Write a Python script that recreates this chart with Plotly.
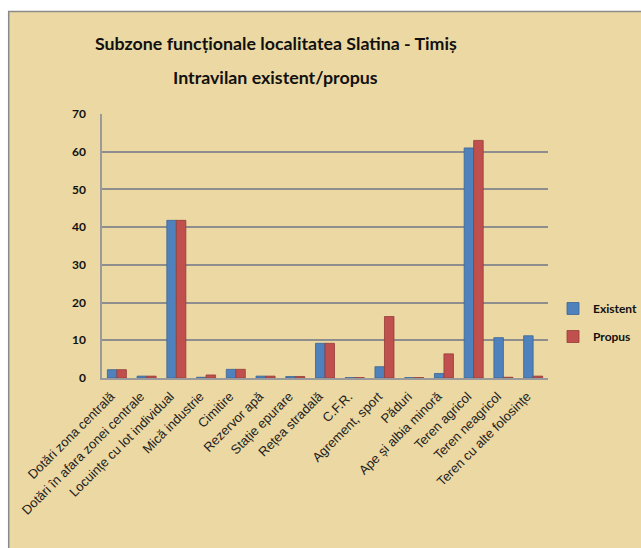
import plotly.graph_objects as go

categories = [
    "Dotări zona centrală", "Dotări în afara zonei centrale", "Locuințe cu lot individual",
    "Mică industrie", "Cimitire", "Rezervor apă", "Stație epurare", "Rețea stradală",
    "C.F.R.", "Agrement, sport", "Păduri", "Ape și albia minoră", "Teren agricol",
    "Teren neagricol", "Teren cu alte folosințe",
]
existent = [2.2, 0.5, 41.8, 0.2, 2.3, 0.5, 0.4, 9.2, 0.1, 3.0, 0.1, 1.2, 61.0, 10.7, 11.2]
propus = [2.2, 0.5, 41.8, 0.8, 2.3, 0.5, 0.4, 9.2, 0.1, 16.3, 0.1, 6.4, 63.0, 0.2, 0.5]
y_ticks = [0, 10, 20, 30, 40, 50, 60, 70]
title_lines = ["Subzone funcționale localitatea Slatina - Timiș", "Intravilan existent/propus"]

W, H = 641, 548
ML, MR, MT, MB = 102, 641 - 548, 114, 548 - 378
pw, ph = W - ML - MR, H - MT - MB

def px_x(p):
    return (p - ML) / pw

def px_y(p):
    return 1 - (p - MT) / ph

fig = go.Figure()
fig.add_trace(go.Bar(name="Existent", x=categories, y=existent, legendgroup="a",
                     marker=dict(color="#4F81BD", line=dict(color="#3A6697", width=0.8))))
fig.add_trace(go.Bar(name="Propus", x=categories, y=propus, legendgroup="b",
                     marker=dict(color="#C0504D", line=dict(color="#943B39", width=0.8))))

bg = "#ECD8A2"
shapes = [
    dict(type="rect", xref="paper", yref="paper", x0=px_x(0), x1=px_x(W), y0=px_y(11), y1=px_y(0),
         fillcolor="white", line=dict(width=0), layer="below"),
    dict(type="rect", xref="paper", yref="paper", x0=px_x(0), x1=px_x(8), y0=px_y(H), y1=px_y(0),
         fillcolor="white", line=dict(width=0), layer="below"),
    dict(type="line", xref="paper", yref="paper", x0=px_x(8), x1=px_x(W), y0=px_y(11.5), y1=px_y(11.5),
         line=dict(color="#8A8A8A", width=1.5), layer="below"),
    dict(type="line", xref="paper", yref="paper", x0=px_x(8.7), x1=px_x(8.7), y0=px_y(H), y1=px_y(11),
         line=dict(color="#8A8A8A", width=1.5), layer="below"),
]

annotations = [
    dict(text=f"<b>{title_lines[0]}</b>", x=px_x(276), y=px_y(43), xref="paper", yref="paper",
         xanchor="center", yanchor="middle", showarrow=False,
         font=dict(family="Lato, sans-serif", size=17.8, color="#111111")),
    dict(text=f"<b>{title_lines[1]}</b>", x=px_x(275), y=px_y(77), xref="paper", yref="paper",
         xanchor="center", yanchor="middle", showarrow=False,
         font=dict(family="Lato, sans-serif", size=17.8, color="#111111")),
]

fig.update_layout(
    width=W, height=H,
    margin=dict(l=ML, r=MR, t=MT, b=MB, autoexpand=False),
    paper_bgcolor=bg, plot_bgcolor="rgba(0,0,0,0)",
    barmode="group", bargap=0.36, bargroupgap=0.0,
    legend=dict(
        x=px_x(553), y=px_y(294), xanchor="left", yanchor="top",
        font=dict(family="Lato, sans-serif", size=12, color="#111111", weight="bold"),
        bgcolor="rgba(0,0,0,0)", itemwidth=30, tracegroupgap=9, traceorder="grouped",
    ),
    xaxis=dict(
        tickangle=-45, showgrid=False, showline=True, linecolor="#9A9A9A", linewidth=1.5,
        tickfont=dict(family="Liberation Sans, Arial, sans-serif", size=13, color="#222222"),
        ticks="", ticklabelshift=-6, ticklabelstandoff=4,
    ),
    yaxis=dict(
        range=[0, 70], tickvals=y_ticks, showgrid=True, gridcolor="#8E8E8E", gridwidth=1.5,
        showline=True, linecolor="#9A9A9A", linewidth=1.5, zeroline=False,
        tickfont=dict(family="Lato, sans-serif", size=12, color="#111111", weight="bold"),
        ticklabelstandoff=12, ticks="",
    ),
    shapes=shapes,
    annotations=annotations,
    font=dict(family="Lato, sans-serif"),
)

fig.write_html(
    "out.html",
    config={"displayModeBar": False},
    post_script="document.body.style.margin='0';document.body.style.overflow='hidden';",
)
